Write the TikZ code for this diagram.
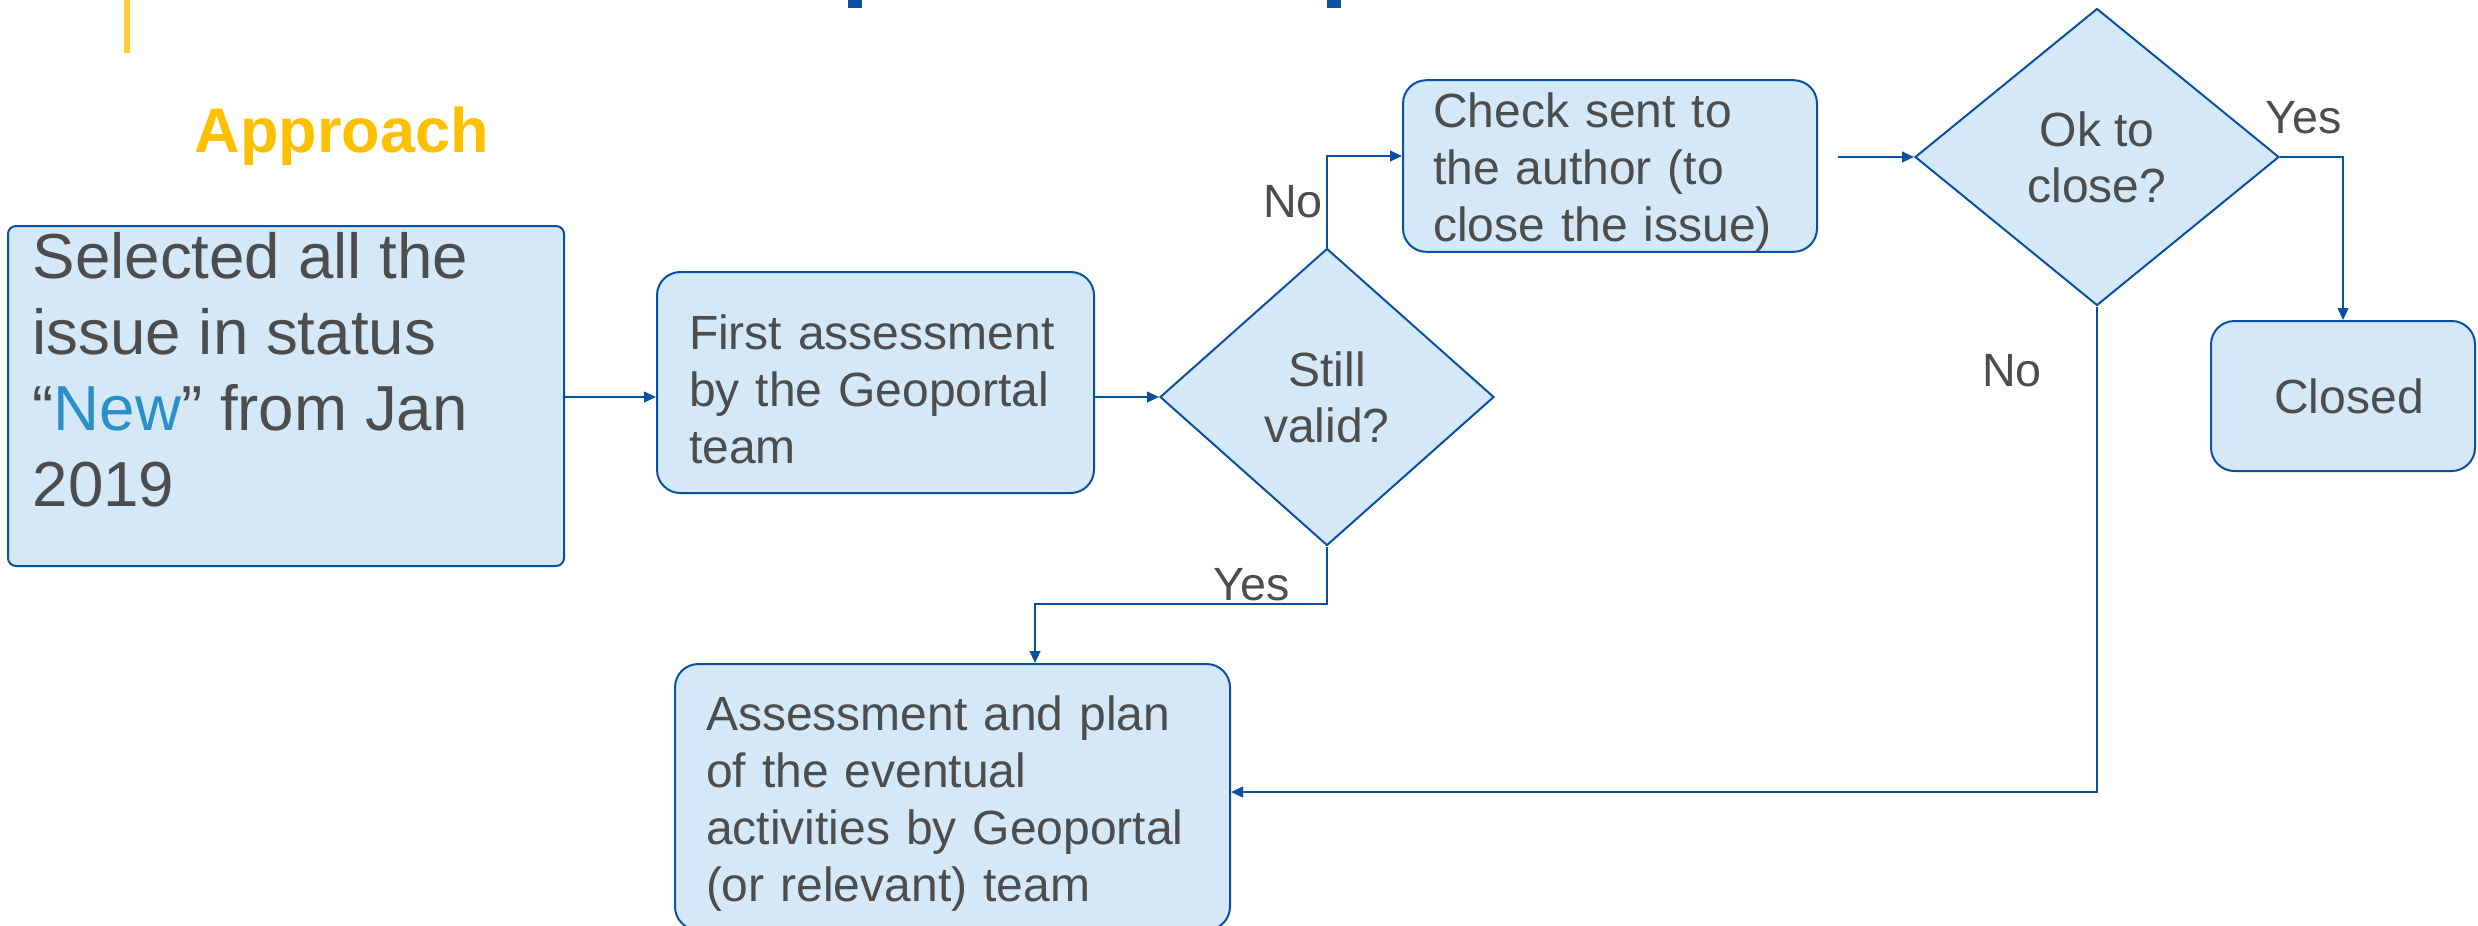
\documentclass[tikz,border=0pt]{standalone}
\usepackage{fontspec}
\setmainfont{Liberation Sans}
\usetikzlibrary{shapes.geometric,arrows.meta}
\definecolor{bfill}{HTML}{D4E8F8}
\definecolor{bline}{HTML}{0A50A1}
\definecolor{tgray}{HTML}{4D4D4D}
\definecolor{newblue}{HTML}{2B8FC8}
\definecolor{apprcol}{HTML}{FFC000}
\definecolor{barcol}{HTML}{FFCC33}
\newcommand\tstrut{\rule{0pt}{14.3pt}}
\tikzset{
 box/.style={draw=bline, fill=bfill, line width=0.6pt, rounded corners=7pt, text=tgray, align=left, inner ysep=0pt, inner xsep=9.6pt, font=\fontsize{14.4}{17.1}\selectfont},
 dia/.style={diamond, draw=bline, fill=bfill, line width=0.6pt, text=tgray, align=center, inner sep=0pt, font=\fontsize{14.4}{16.8}\selectfont},
 arr/.style={draw=bline, line width=0.6pt, -{Triangle[length=3.6pt,width=3.2pt]}},
 lbl/.style={text=tgray, font=\fontsize{14}{16}\selectfont, inner sep=0pt},
}
\begin{document}
\begin{tikzpicture}[x=0.3pt,y=-0.3pt]
\useasboundingbox (0,0) rectangle (2478,925);
\clip (0,0) rectangle (2478,925);
% title remnants
\fill[fill=barcol] (124,0) rectangle (130,53);
\fill[fill=bline] (848,0) rectangle (862,8);
\fill[fill=bline] (1327,0) rectangle (1341,8);
\node[anchor=base west, text=apprcol, font=\bfseries\fontsize{18.9}{22}\selectfont, inner sep=0pt] (appr) at (194,152) {Approach};
% boxes
\node[box, rounded corners=2.4pt, minimum width=166.8pt, minimum height=102pt] (b1) at (286,396) {};
\node[anchor=north west, inner sep=0pt, text=tgray, align=left, font=\fontsize{19.1}{22.8}\selectfont] (t1) at (32,232) {Selected all the\\issue in status\\“\textcolor{newblue}{New}” from Jan\\2019};
\node[box, text width=111.9pt, minimum height=66.3pt] (b2) at (875.5,382.5) {\tstrut First assessment\\by the Geoportal\\team};
\node[dia, minimum width=100.2pt, minimum height=89.1pt] (d1) at (1327,397) {Still\\valid?};
\node[box, inner xsep=9pt, text width=106.2pt, minimum height=50.4pt] (b3) at (1610,166) {\tstrut Check sent to\\the author (to\\close the issue)};
\node[dia, minimum width=109.2pt, minimum height=89.1pt] (d2) at (2097,157) {Ok to\\close?};
\node[box, align=center, minimum width=79.2pt, minimum height=45pt] (b4) at (2343,396) {\hspace*{3.6pt}Closed};
\node[box, inner xsep=9.3pt, text width=147.9pt, minimum height=79.8pt] (b5) at (952.5,797) {\tstrut Assessment and plan\\of the eventual\\activities by Geoportal\\(or relevant) team};
% connectors
\draw[arr] (b1.east |- d1.west) -- (b2.west |- d1.west);
\draw[arr] (b2.east |- d1.west) -- (d1.west);
\draw[arr] (d1.north) |- ([yshift=3pt]b3.west);
\coordinate (c3) at ([xshift=6pt]b3.east |- d2.west);
\draw[arr] (c3) -- (d2.west);
\draw[arr] (d2.east) -| (b4.north);
\draw[arr] (d2.south) |- ([yshift=1.5pt]b5.east);
\coordinate (k1) at (1035,604);
\draw[arr] (d1.south) |- (k1) -- (k1 |- b5.north);
% labels
\node[lbl] (lno1) at (1293,202) {No};
\node[lbl] (lyes1) at (1252,585) {Yes};
\node[lbl] (lyes2) at (2304,118) {Yes};
\node[lbl] (lno2) at (2012,371) {No};
\end{tikzpicture}
\end{document}
